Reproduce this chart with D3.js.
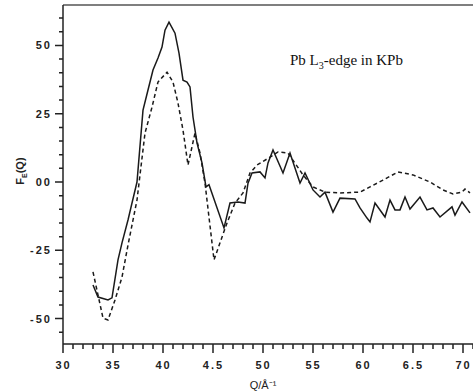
<!DOCTYPE html>
<html>
<head>
<meta charset="utf-8">
<script src="https://cdn.jsdelivr.net/npm/d3@7"></script>
<style>
  body { margin: 0; background: #fff; }
  .tick text { font-family: "Liberation Sans", Arial, sans-serif; font-weight: bold; }
</style>
</head>
<body>
<div id="chart"></div>
<script>
// Q (1/Å) and F_E(Q)
const solidQ = [3.30, 3.35, 3.45, 3.49, 3.55, 3.59, 3.65, 3.69, 3.74, 3.80, 3.85, 3.90, 3.95, 3.99, 4.02, 4.06,
  4.12, 4.16, 4.20, 4.24, 4.27, 4.30, 4.34, 4.39, 4.43, 4.46, 4.61, 4.67, 4.75, 4.82, 4.85, 4.89, 4.97,
  5.02, 5.05, 5.10, 5.20, 5.27, 5.37, 5.42, 5.50, 5.57, 5.62, 5.70, 5.77, 5.92, 5.97, 6.04, 6.07, 6.12,
  6.22, 6.27, 6.32, 6.37, 6.42, 6.47, 6.57, 6.64, 6.70, 6.77, 6.89, 6.92, 6.99, 7.07];
const solidF = [-37.7, -42.1, -43.2, -42.4, -28.5, -22.3, -13.9, -7.7, 0, 26.3, 33.7, 41.0, 45.4, 49.4, 55.6, 58.5,
  54.5, 47.2, 37.3, 36.6, 34.8, 23.8, 14.3, 7.0, -1.8, -1.0, -16.8, -7.7, -7.3, -7.7, -0.4, 3.3, 3.7,
  1.5, 7.0, 11.7, 3.3, 10.6, -0.4, 3.3, -2.9, -5.5, -3.7, -11.0, -5.9, -6.2, -9.5, -13.2, -14.6, -7.7,
  -12.8, -6.6, -10.2, -10.2, -5.5, -9.9, -5.5, -10.2, -9.5, -12.8, -9.1, -12.1, -7.3, -11.3];

const dashQ = [3.30, 3.40, 3.45, 3.52, 3.59, 3.65, 3.74, 3.82, 3.89, 3.95, 4.04, 4.10, 4.15, 4.20, 4.25, 4.32,
  4.37, 4.42, 4.51, 4.64, 4.72, 4.80, 4.87, 4.94, 5.07, 5.15, 5.25, 5.40, 5.50, 5.62, 5.77, 5.97, 6.07,
  6.20, 6.35, 6.50, 6.67, 6.80, 6.90, 6.99, 7.02, 7.07];
const dashF = [-32.9, -49.8, -50.5, -43.2, -34.8, -23.1, -6.6, 17.9, 27.4, 36.6, 40.2, 36.6, 28.9, 19.0, 6.2, 17.9,
  10.6, -0.4, -28.5, -15.0, -7.7, -4.0, 3.3, 6.2, 9.1, 11.0, 10.6, 2.6, -1.8, -3.7, -4.0, -3.7, -1.8,
  0.7, 3.7, 2.6, 0, -2.9, -4.4, -3.7, -2.6, -4.0];

const xTicks = [3.0, 3.5, 4.0, 4.5, 5.0, 5.5, 6.0, 6.5, 7.0];
const xTickLabels = ["30", "35", "40", "4.5", "50", "55", "60", "6.5", "70"];
const xMinor = d3.range(30, 72, 1).map(d => d / 10);
const yTicks = [50, 25, 0, -25, -50];
const yTickLabels = ["50", "25", "00", "-25", "-50"];
const yMinor = d3.range(-55, 65, 5);

const W = 473, H = 392;
const svg = d3.select("#chart").append("svg")
  .attr("width", W).attr("height", H);

const x = d3.scaleLinear().domain([3.0, 7.1]).range([63, 473]);
const y = d3.scaleLinear().domain([-59.3, 64.8]).range([344, 5]);
const x0 = x(3.0), yb = y(-59.3);

// frame: top line
svg.append("line")
  .attr("x1", x0).attr("x2", W)
  .attr("y1", y(64.8)).attr("y2", y(64.8))
  .attr("stroke", "#555").attr("stroke-width", 1.5);

// tick marks
const tickPath = yMinor.map(d => `M${x0 - (yTicks.includes(d) ? 8 : 4)},${y(d)}H${x0}`).join("")
  + xMinor.map(d => `M${x(d)},${yb}V${yb + (xTicks.some(t => Math.abs(t - d) < 1e-6) ? 9 : 5)}`).join("");
svg.append("path")
  .attr("d", tickPath)
  .attr("fill", "none")
  .attr("stroke", "#222").attr("stroke-width", 1.5);

// axes (labels + spines)
const yAxis = d3.axisLeft(y).tickValues(yTicks).tickSize(0).tickPadding(11)
  .tickFormat((d, i) => yTickLabels[i]);
svg.append("g").attr("transform", `translate(${x0},0)`).call(yAxis)
  .call(g => g.select(".domain").attr("d", `M0,${y(64.8)}V${yb}`))
  .call(g => g.selectAll(".domain").attr("stroke", "#222").attr("stroke-width", 1.5))
  .call(g => g.selectAll("text").attr("font-size", 11).style("letter-spacing", "2px").attr("fill", "#222"));

const xAxis = d3.axisBottom(x).tickValues(xTicks).tickSize(0).tickPadding(17)
  .tickFormat((d, i) => xTickLabels[i]);
svg.append("g").attr("transform", `translate(0,${yb})`).call(xAxis)
  .call(g => g.select(".domain").attr("d", `M${x0},0H${W}`))
  .call(g => g.selectAll(".domain").attr("stroke", "#222").attr("stroke-width", 1.5))
  .call(g => g.selectAll("text").attr("font-size", 11).style("letter-spacing", "2px").attr("fill", "#222"));

// curves
const line = d3.line().x(d => x(d[0])).y(d => y(d[1]));
svg.append("path")
  .datum(d3.zip(solidQ, solidF))
  .attr("fill", "none").attr("stroke", "#1a1a1a").attr("stroke-width", 1.5)
  .attr("d", line);
svg.append("path")
  .datum(d3.zip(dashQ, dashF))
  .attr("fill", "none").attr("stroke", "#1a1a1a").attr("stroke-width", 1.5)
  .attr("stroke-dasharray", "4,3")
  .attr("d", line);

// labels
const yl = svg.append("text")
  .attr("transform", `translate(24,${y(4)}) rotate(-90)`)
  .attr("text-anchor", "middle")
  .attr("font-family", "Liberation Sans, Arial, sans-serif")
  .attr("font-weight", "bold").attr("font-size", 11).attr("fill", "#222");
yl.append("tspan").text("F");
yl.append("tspan").attr("font-size", 7).attr("dy", 3).text("E");
yl.append("tspan").attr("dy", -3).text("(Q)");

svg.append("text")
  .attr("x", x(5.0)).attr("y", 389)
  .attr("text-anchor", "middle")
  .attr("font-family", "Liberation Sans, Arial, sans-serif")
  .attr("font-size", 11).attr("fill", "#222")
  .text("Q/Å⁻¹");

const ann = svg.append("text")
  .attr("x", 290).attr("y", 65)
  .attr("font-family", "Liberation Serif, Times New Roman, serif")
  .attr("font-size", 15).attr("fill", "#111");
ann.append("tspan").text("Pb L");
ann.append("tspan").attr("font-size", 10).attr("dy", 4).text("3");
ann.append("tspan").attr("dy", -4).text("-edge in KPb");
</script>
</body>
</html>
